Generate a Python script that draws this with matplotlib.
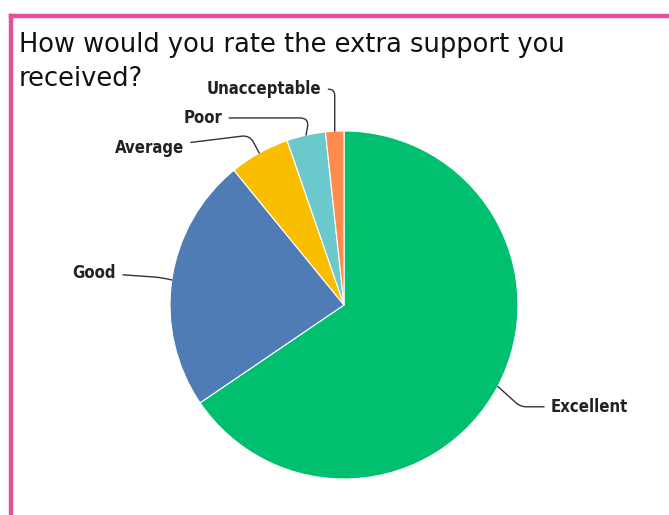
import matplotlib.pyplot as plt
from matplotlib.lines import Line2D
import numpy as np

labels = ["Excellent", "Good", "Average", "Poor", "Unacceptable"]
shares = [65.5, 23.6, 5.6, 3.6, 1.7]
colors = ["#00BF6F", "#507CB6", "#F9BE00", "#6BC8CD", "#FF8B4F"]
title_lines = ["How would you rate the extra support you", "received?"]

# where each label sits (data units, pie radius = 1) and how its leader line bends
label_pos = {
    "Excellent": (1.19, -0.585, "left", "angle,angleA=0,angleB=-42,rad=6"),
    "Good": (-1.31, 0.185, "right", "angle,angleA=-4,angleB=-12,rad=6"),
    "Average": (-0.92, 0.905, "right", "angle,angleA=7,angleB=-62,rad=8"),
    "Poor": (-0.70, 1.075, "right", "angle,angleA=0,angleB=80,rad=9"),
    "Unacceptable": (-0.13, 1.24, "right", "angle,angleA=0,angleB=90,rad=6"),
}

W, H = 669, 515
fig = plt.figure(figsize=(W / 100, H / 100), dpi=100)

# pink frame on the left and top
pink = "#E0509B"
fig.add_artist(Line2D([10.5 / W, 10.5 / W], [0, 1 - 15.5 / H], color=pink, lw=3.2,
                      transform=fig.transFigure, solid_capstyle="projecting"))
fig.add_artist(Line2D([10.5 / W, 1], [1 - 15.5 / H, 1 - 15.5 / H], color=pink, lw=3.2,
                      transform=fig.transFigure, solid_capstyle="projecting"))

# question text, one line at a time
for i, line in enumerate(title_lines):
    fig.text(19 / W, 1 - (52.5 + 33.3 * i) / H, line, fontsize=18.5,
             family="DejaVu Sans", ha="left", va="baseline", color="#111111")

ax = fig.add_axes([170 / W, 36 / H, 348 / W, 348 / H])
wedges, _ = ax.pie(shares, colors=colors, startangle=90, counterclock=False,
                   wedgeprops=dict(edgecolor="white", linewidth=0.8))
ax.set_xlim(-1, 1)
ax.set_ylim(-1, 1)
ax.axis("off")

for w, lab in zip(wedges, labels):
    mid = np.deg2rad((w.theta1 + w.theta2) / 2)
    px, py = np.cos(mid), np.sin(mid)
    tx, ty, ha, cs = label_pos[lab]
    ax.annotate(lab, xy=(px, py), xytext=(tx, ty), ha=ha, va="center",
                fontsize=12, fontweight="bold", family="DejaVu Sans", stretch="condensed",
                color="#222222", annotation_clip=False,
                arrowprops=dict(arrowstyle="-", color="#333333", lw=1.0,
                                connectionstyle=cs, shrinkA=3, shrinkB=0))

fig.savefig("out.png", dpi=100)
